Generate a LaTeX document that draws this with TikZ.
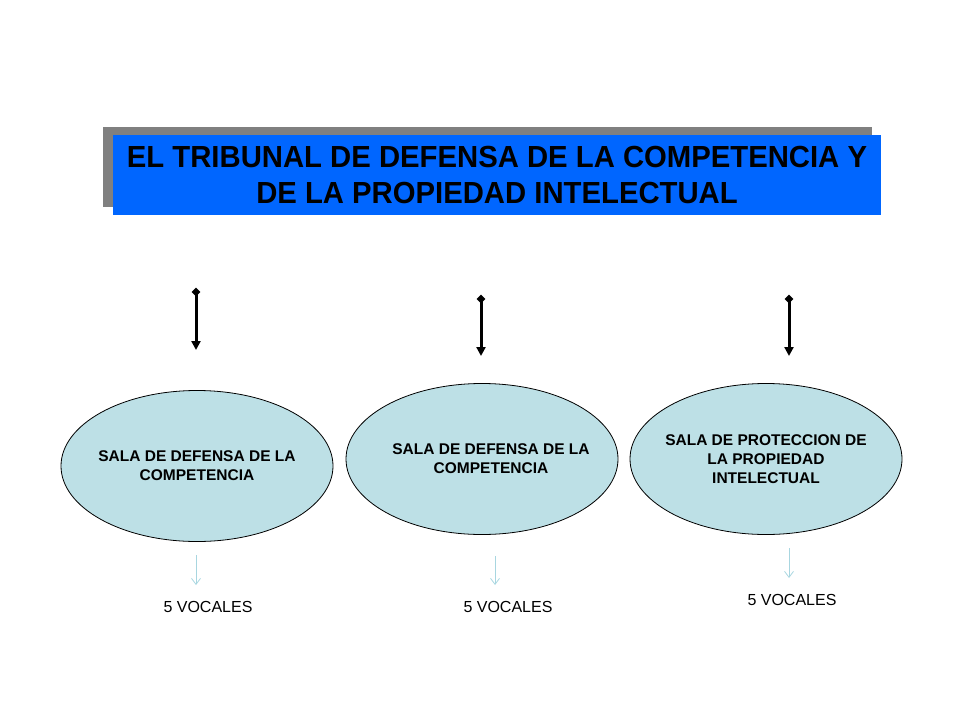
\documentclass[tikz,border=0pt]{standalone}
\usepackage{fontspec}
\setmainfont{Liberation Sans}
\newfontfamily\titlefont[FakeStretch=0.96]{Liberation Sans}
\usetikzlibrary{arrows.meta,shapes.geometric}
\definecolor{titleblue}{RGB}{0,102,255}
\definecolor{shadowgray}{RGB}{128,128,128}
\definecolor{ellfill}{RGB}{189,224,230}
\definecolor{thinblue}{RGB}{168,214,224}
\tikzset{
  sala/.style={ellipse, draw=black, line width=0.8pt, fill=ellfill,
    minimum width=272pt, minimum height=151pt, inner xsep=-40pt, inner ysep=0pt,
    align=center, font=\fontsize{15.5}{19}\selectfont\bfseries},
  bigarrow/.style={line width=3pt, -{Triangle[length=9pt,width=9pt]}},
  bigstart/.style={fill=black, diamond, minimum size=9pt, inner sep=0pt},
  thinarrow/.style={draw=thinblue, line width=0.8pt, -{Straight Barb[length=6pt,width=9pt]}},
  vocal/.style={font=\fontsize{16}{19}\selectfont, inner sep=0pt}
}
\begin{document}
\begin{tikzpicture}[x=1pt,y=-1pt]
\useasboundingbox (0,0) rectangle (960,720);
\fill[shadowgray] (103,127) rectangle (872,207);
\node[fill=titleblue, minimum width=768pt, minimum height=80pt, inner sep=0pt,
  align=center, font=\titlefont\fontsize{30.5}{36}\selectfont\bfseries]
  (title) at (497,175) {EL TRIBUNAL DE DEFENSA DE LA COMPETENCIA Y\\DE LA PROPIEDAD INTELECTUAL};

\coordinate (a1s) at (196,292); \coordinate (a1e) at (196,350);
\coordinate (a2s) at (481,299); \coordinate (a2e) at (481,356);
\coordinate (a3s) at (789,299); \coordinate (a3e) at (789,356);
\foreach \i in {1,2,3}{
  \draw[bigarrow] (a\i s) -- (a\i e);
  \node[bigstart] at (a\i s) {};
}

\node[sala] (s1) at (197,466) {SALA DE DEFENSA DE LA\\COMPETENCIA};
\node[sala] (s2) at (482,459) {\hspace*{18pt}SALA DE DEFENSA DE LA\\\hspace*{18pt}COMPETENCIA};
\node[sala] (s3) at (766,459) {SALA DE PROTECCION DE\\LA PROPIEDAD\\INTELECTUAL};

\node[vocal] (v1) at (208,607) {5 VOCALES};
\node[vocal] (v2) at (508,607) {5 VOCALES};
\node[vocal] (v3) at (792,600) {5 VOCALES};

\coordinate (t1s) at (196,555); \coordinate (t1e) at (196,585);
\coordinate (t2s) at (495,556); \coordinate (t2e) at (495,585);
\coordinate (t3s) at (789,548); \coordinate (t3e) at (789,578);
\foreach \i in {1,2,3}{
  \draw[thinarrow] (t\i s) -- (t\i e);
}
\end{tikzpicture}
\end{document}
